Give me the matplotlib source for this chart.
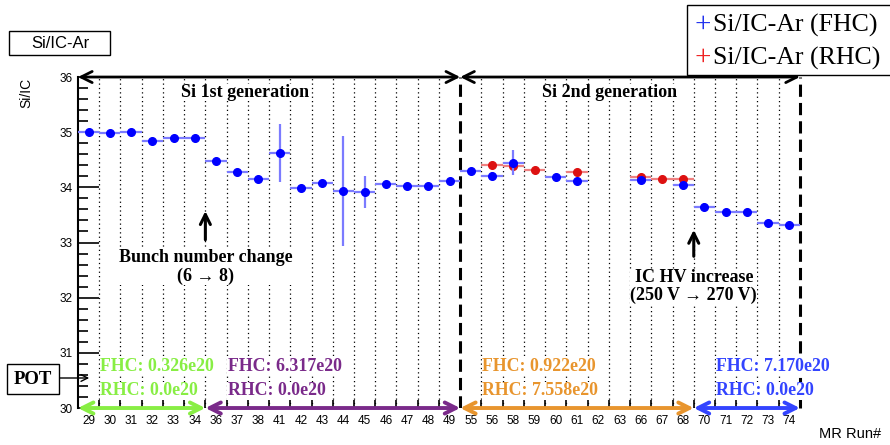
import numpy as np
import matplotlib
matplotlib.use("Agg")
import matplotlib.pyplot as plt
from matplotlib.patches import Rectangle, FancyArrowPatch

# MR run bins (categorical x axis)
runs = ["29", "30", "31", "32", "33", "34", "36", "37", "38", "41", "42", "43",
        "44", "45", "46", "47", "48", "49", "55", "56", "58", "59", "60", "61",
        "62", "63", "66", "67", "68", "70", "71", "72", "73", "74"]

nan = np.nan
fhc_val = [35.00, 34.98, 35.01, 34.84, 34.90, 34.90, 34.47, 34.28, 34.15, 34.62,
           33.98, 34.08, 33.93, 33.91, 34.06, 34.02, 34.02, 34.11, 34.30, 34.21,
           34.45, nan, 34.18, 34.12, nan, nan, 34.14, nan, 34.04, 33.65,
           33.56, 33.55, 33.36, 33.31]
fhc_err = [0.06, 0.05, 0.03, 0.04, 0.03, 0.03, 0.04, 0.04, 0.03, 0.52,
           0.07, 0.06, 1.00, 0.29, 0.03, 0.03, 0.03, 0.03, 0.06, 0.07,
           0.23, nan, 0.03, 0.03, nan, nan, 0.07, nan, 0.08, 0.07,
           0.04, 0.03, 0.03, 0.03]
rhc_val = [nan] * 19 + [34.41, 34.39, 34.32, nan, 34.27, nan, nan, 34.19, 34.15, 34.15] + [nan] * 5
rhc_err = [nan] * 19 + [0.03, 0.08, 0.03, nan, 0.04, nan, nan, 0.05, 0.03, 0.03] + [nan] * 5

# POT periods: (first bin edge, last bin edge, colour, FHC text, RHC text)
pot_periods = [
    (0, 6, "#88ee44", "FHC: 0.326e20", "RHC: 0.0e20"),
    (6, 18, "#7a2a8a", "FHC: 6.317e20", "RHC: 0.0e20"),
    (18, 29, "#e8952e", "FHC: 0.922e20", "RHC: 7.558e20"),
    (29, 34, "#3344ff", "FHC: 7.170e20", "RHC: 0.0e20"),
]

SERIF = "Liberation Serif"
SANS = "Liberation Sans"
WHITE = dict(facecolor="white", edgecolor="none", pad=0.3)

fig = plt.figure(figsize=(8.9, 4.45), dpi=100)
ax = fig.add_axes([0.0876, 0.0831, 0.8112, 0.7438])

x = np.arange(len(runs))
n = len(runs)
ax.set_xlim(-0.5, n - 0.5)
ax.set_ylim(30, 36)

# bin grid
for b in range(1, n):
    if b == 18:
        continue
    ax.axvline(b - 0.5, color="black", lw=0.9, ls=(0, (1, 2.5)), zorder=1)
ax.axvline(17.5, color="black", lw=2.2, ls=(0, (4, 2)), zorder=2)
ax.axvline(n - 0.5, color="black", lw=2.2, ls=(0, (4, 2)), zorder=2, clip_on=False)

ax.errorbar(x, fhc_val, xerr=0.5, yerr=fhc_err, fmt="o", color="#0000ff", ms=5.5,
            ecolor="#7b7bff", elinewidth=1.6, capsize=0, zorder=4)
ax.errorbar(x, rhc_val, xerr=0.5, yerr=rhc_err, fmt="o", color="#dd1111", ms=5.5,
            ecolor="#ef8080", elinewidth=1.6, capsize=0, zorder=3)

# axes styling
for s in ["top", "right", "bottom"]:
    ax.spines[s].set_visible(False)
ax.spines["left"].set_linewidth(1.5)
ax.set_yticks(range(30, 37))
ax.set_yticks(np.arange(30, 36.01, 0.2), minor=True)
ax.tick_params(axis="y", which="major", direction="in", length=15, width=1.2,
               labelsize=8.5, pad=4)
ax.tick_params(axis="y", which="minor", direction="in", length=7, width=1.2)
ax.set_xticks(np.arange(n + 1) - 0.5)
ax.set_xticklabels([])
ax.set_xticks(x, minor=True)
ax.set_xticklabels(runs, minor=True)
ax.tick_params(axis="x", which="major", direction="in", length=6, width=1.2)
ax.tick_params(axis="x", which="minor", length=0, labelsize=8.5, pad=5)
for lab in ax.get_xticklabels(minor=True) + ax.get_yticklabels():
    lab.set_family(SANS)

fig.text(0.030, 0.825, "Si/IC", rotation=90, ha="center", va="top",
         family=SANS, fontsize=10)
fig.text(0.99, 0.01, "MR Run#", ha="right", va="bottom", family=SANS, fontsize=10.5)

# generation arrows along the top
arw = dict(arrowstyle="<->", lw=2, color="black", mutation_scale=20,
           shrinkA=0, shrinkB=0)
ax.annotate("", xy=(-0.5, 36), xytext=(17.5, 36), arrowprops=arw, annotation_clip=False)
ax.annotate("", xy=(17.5, 36), xytext=(n - 0.5, 36), arrowprops=arw, annotation_clip=False)
ax.text(7.36, 35.72, "Si 1st generation", ha="center", va="center",
        family=SERIF, weight="bold", fontsize=13, bbox=WHITE, zorder=3)
ax.text(24.55, 35.72, "Si 2nd generation", ha="center", va="center",
        family=SERIF, weight="bold", fontsize=13, bbox=WHITE, zorder=3)

# POT periods along the bottom
for lo, hi, col, ftxt, rtxt in pot_periods:
    ax.annotate("", xy=(lo - 0.5, 30), xytext=(hi - 0.5, 30),
                arrowprops=dict(arrowstyle="<->", lw=2.8, color=col, mutation_scale=20,
                                shrinkA=0, shrinkB=0),
                annotation_clip=False, zorder=5)
    ax.text(lo - 0.5 + 1.05, 30.76, ftxt, color=col, ha="left", va="center",
            family=SERIF, weight="bold", fontsize=12.9, bbox=WHITE, zorder=3)
    ax.text(lo - 0.5 + 1.05, 30.31, rtxt, color=col, ha="left", va="center",
            family=SERIF, weight="bold", fontsize=12.9, bbox=WHITE, zorder=3)

# change annotations
ax.annotate("", xy=(5.5, 33.62), xytext=(5.5, 33.0),
            arrowprops=dict(arrowstyle="->", lw=2.2, color="black", mutation_scale=18))
ax.text(5.5, 32.56, "Bunch number change\n(6 \u2192 8)", ha="center", va="center",
        family=SERIF, weight="bold", fontsize=13, linespacing=1.1, bbox=WHITE, zorder=3)
ax.annotate("", xy=(28.5, 33.28), xytext=(28.5, 32.7),
            arrowprops=dict(arrowstyle="->", lw=2.2, color="black", mutation_scale=18))
ax.text(28.5, 32.2, "IC HV increase\n(250 V \u2192 270 V)", ha="center", va="center",
        family=SERIF, weight="bold", fontsize=13, linespacing=1.1, bbox=WHITE, zorder=3)

# POT label box with arrow
fig.text(33 / 890, 1 - 379 / 445, "POT", ha="center", va="center", family=SERIF,
         weight="bold", fontsize=13.5,
         bbox=dict(facecolor="white", edgecolor="black", lw=1, boxstyle="square,pad=0.35"))
fig.add_artist(FancyArrowPatch(
    (56 / 890, 1 - 378 / 445), (92 / 890, 1 - 378 / 445), transform=fig.transFigure,
    arrowstyle="->", lw=1, color="black", mutation_scale=12))

# title box
fig.add_artist(Rectangle((9 / 890, 1 - 55 / 445), 101 / 890, 24 / 445,
                         transform=fig.transFigure, facecolor="white",
                         edgecolor="black", lw=1))
fig.text(60 / 890, 1 - 43 / 445, "Si/IC-Ar", ha="center", va="center",
         family=SANS, fontsize=12)

# legend box
fig.add_artist(Rectangle((687 / 890, 1 - 75 / 445), 0.25, 70 / 445,
                         transform=fig.transFigure, facecolor="white",
                         edgecolor="black", lw=1))
for py, col, lab in [(25, "#2233ee", "Si/IC-Ar (FHC)"), (58, "#ee2222", "Si/IC-Ar (RHC)")]:
    fig.text(703 / 890, 1 - py / 445, "+", color=col, ha="center", va="center",
             family=SERIF, fontsize=21)
    fig.text(713 / 890, 1 - py / 445, lab, ha="left", va="center",
             family=SERIF, fontsize=18.6)

fig.savefig("out.png", dpi=100)
